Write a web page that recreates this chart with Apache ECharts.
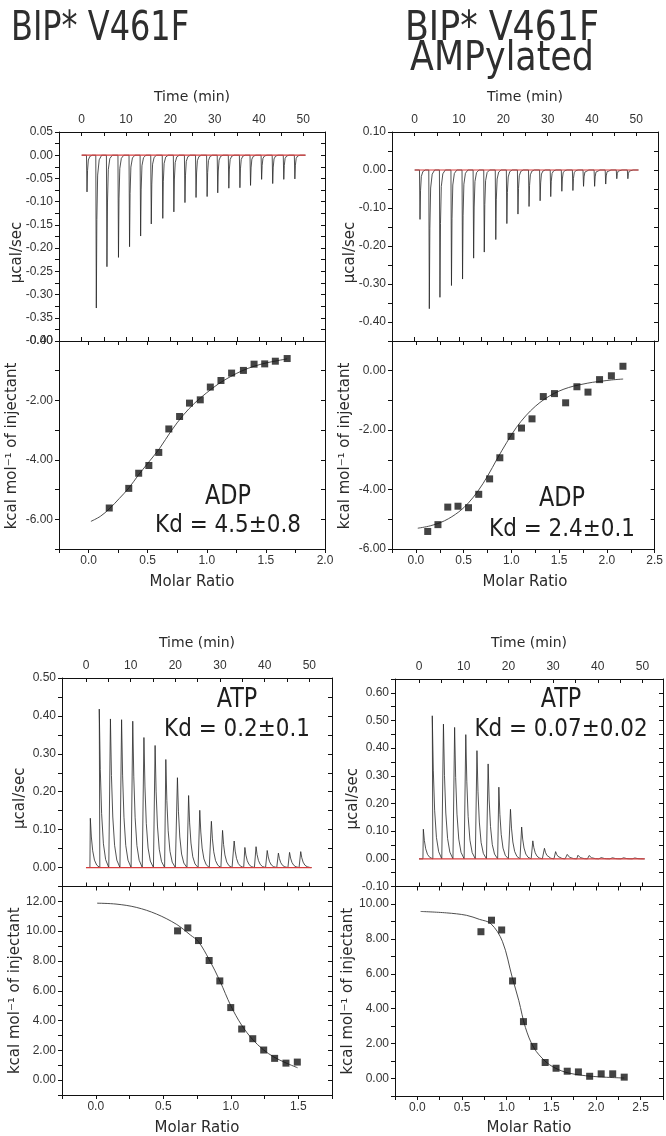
<!DOCTYPE html>
<html><head><meta charset="utf-8">
<script src="https://cdn.jsdelivr.net/npm/echarts@6/dist/echarts.min.js"></script>
<style>html,body{margin:0;padding:0;background:#fff}#c{width:666px;height:1136px}</style>
</head><body><div id="c"></div>
<script>
// ================= DATA =================
// injection times (min)
const injTimesADP = [1.1,3.2,5.6,8.2,10.7,13.2,15.6,18.2,20.7,23.2,25.7,28.2,30.6,33.1,35.6,38.0,40.5,43.0,45.5,48.0];
const injTimesATP = [0.9,2.9,5.4,7.9,10.4,12.9,15.4,17.8,20.4,22.9,25.4,28.0,30.5,33.1,35.5,38.0,40.5,43.0,45.5,48.0];
// peak heights (µcal/sec)
const peaksV461F_ADP = [-0.079,-0.329,-0.24,-0.22,-0.197,-0.174,-0.148,-0.136,-0.122,-0.102,-0.091,-0.089,-0.081,-0.071,-0.07,-0.065,-0.052,-0.061,-0.052,-0.051];
const peaksAMP_ADP   = [-0.13,-0.365,-0.335,-0.304,-0.287,-0.232,-0.216,-0.183,-0.141,-0.116,-0.096,-0.081,-0.07,-0.056,-0.054,-0.043,-0.043,-0.037,-0.023,-0.023];
const peaksV461F_ATP = [0.13,0.418,0.392,0.39,0.386,0.343,0.322,0.285,0.237,0.19,0.151,0.122,0.098,0.07,0.053,0.055,0.045,0.038,0.04,0.042];
const peaksAMP_ATP   = [0.107,0.517,0.487,0.475,0.449,0.391,0.343,0.259,0.179,0.115,0.065,0.038,0.026,0.016,0.013,0.012,0.007,0.006,0.006,0.005];

// integrated heats (kcal/mol of injectant) vs molar ratio
const ratioV461F_ADP = [0.175,0.34,0.424,0.51,0.594,0.679,0.77,0.854,0.945,1.03,1.12,1.21,1.31,1.40,1.49,1.58,1.68];
const heatV461F_ADP  = [-5.62,-4.96,-4.45,-4.19,-3.75,-2.96,-2.54,-2.09,-1.98,-1.55,-1.33,-1.08,-0.99,-0.78,-0.77,-0.68,-0.59];
const fitXV461F_ADP  = [0.02,0.1,0.175,0.26,0.34,0.42,0.5,0.6,0.7,0.8,0.9,1.0,1.1,1.2,1.3,1.4,1.5,1.6,1.68];
const fitYV461F_ADP  = [-6.07,-5.9,-5.65,-5.3,-4.95,-4.52,-4.12,-3.62,-3.02,-2.5,-2.08,-1.74,-1.44,-1.2,-1.0,-0.85,-0.74,-0.66,-0.6];

const ratioAMP_ADP = [0.124,0.231,0.334,0.441,0.551,0.658,0.772,0.879,0.996,1.106,1.216,1.334,1.451,1.568,1.686,1.802,1.923,2.047,2.168];
const heatAMP_ADP  = [-5.41,-5.18,-4.59,-4.56,-4.61,-4.16,-3.64,-2.93,-2.21,-1.93,-1.62,-0.87,-0.77,-1.08,-0.54,-0.72,-0.30,-0.17,0.15];
const fitXAMP_ADP  = [0.02,0.15,0.3,0.45,0.55,0.65,0.75,0.85,0.95,1.05,1.15,1.25,1.35,1.45,1.55,1.65,1.75,1.85,1.95,2.05,2.17];
const fitYAMP_ADP  = [-5.3,-5.22,-5.05,-4.75,-4.45,-4.05,-3.55,-2.97,-2.42,-1.92,-1.52,-1.2,-0.95,-0.76,-0.62,-0.52,-0.45,-0.39,-0.35,-0.31,-0.28];

const ratioV461F_ATP = [0.606,0.682,0.761,0.84,0.919,1.0,1.081,1.163,1.244,1.325,1.409,1.493];
const heatV461F_ATP  = [10.02,10.22,9.37,8.03,6.66,4.87,3.43,2.78,2.02,1.46,1.14,1.21];
const fitXV461F_ATP  = [0.01,0.15,0.3,0.45,0.6,0.7,0.76,0.84,0.92,1.0,1.08,1.16,1.24,1.32,1.41,1.495];
const fitYV461F_ATP  = [11.88,11.82,11.6,11.15,10.45,9.75,9.3,8.1,6.65,5.0,3.7,2.75,2.05,1.55,1.15,0.83];

const ratioAMP_ATP = [0.712,0.83,0.944,1.066,1.188,1.305,1.431,1.553,1.678,1.803,1.929,2.058,2.187,2.316];
const heatAMP_ATP  = [8.41,9.07,8.51,5.59,3.26,1.84,0.92,0.59,0.42,0.38,0.13,0.27,0.27,0.08];
const fitXAMP_ATP  = [0.037,0.325,0.55,0.694,0.823,0.952,1.062,1.136,1.21,1.305,1.43,1.54,1.69,1.947,2.316];
const fitYAMP_ATP  = [9.57,9.49,9.35,9.12,8.87,7.86,5.80,4.46,2.92,1.76,1.0,0.61,0.32,0.13,0.03];

// tick labels
const timeLabels = [0,10,20,30,40,50];
const timeTicks  = [0,5,10,15,20,25,30,35,40,45,50];
const rawLabelsA = [-0.40,-0.35,-0.30,-0.25,-0.20,-0.15,-0.10,-0.05,0.00,0.05];
const rawTicksA  = [-0.40,-0.375,-0.35,-0.325,-0.30,-0.275,-0.25,-0.225,-0.20,-0.175,-0.15,-0.125,-0.10,-0.075,-0.05,-0.025,0.00,0.025,0.05];
const rawLabelsB = [-0.40,-0.30,-0.20,-0.10,0.00,0.10];
const rawTicksB  = [-0.45,-0.40,-0.35,-0.30,-0.25,-0.20,-0.15,-0.10,-0.05,0.00,0.05,0.10];
const rawLabelsC = [0.00,0.10,0.20,0.30,0.40,0.50];
const rawTicksC  = [-0.05,0.00,0.05,0.10,0.15,0.20,0.25,0.30,0.35,0.40,0.45,0.50];
const rawLabelsD = [-0.10,0.00,0.10,0.20,0.30,0.40,0.50,0.60];
const rawTicksD  = [-0.10,-0.05,0.00,0.05,0.10,0.15,0.20,0.25,0.30,0.35,0.40,0.45,0.50,0.55,0.60,0.65];
const heatLabelsA = [-6,-4,-2,0];
const heatTicksA  = [-7,-6,-5,-4,-3,-2,-1,0];
const heatLabelsB = [-6,-4,-2,0];
const heatTicksB  = [-6,-5,-4,-3,-2,-1,0,1];
const heatLabelsC = [0,2,4,6,8,10,12];
const heatTicksC  = [-1,0,1,2,3,4,5,6,7,8,9,10,11,12,13];
const heatLabelsD = [0,2,4,6,8,10];
const heatTicksD  = [-1,0,1,2,3,4,5,6,7,8,9,10,11];
const ratioLabelsA = [0,0.5,1.0,1.5,2.0];
const ratioTicksA  = [-0.25,0,0.25,0.5,0.75,1.0,1.25,1.5,1.75,2.0];
const ratioLabelsB = [0,0.5,1.0,1.5,2.0,2.5];
const ratioTicksB  = [-0.25,0,0.25,0.5,0.75,1.0,1.25,1.5,1.75,2.0,2.25,2.5];
const ratioLabelsC = [0,0.5,1.0,1.5];
const ratioTicksC  = [-0.25,0,0.25,0.5,0.75,1.0,1.25,1.5,1.75];
const ratioLabelsD = [0,0.5,1.0,1.5,2.0,2.5];
const ratioTicksD  = [-0.25,0,0.25,0.5,0.75,1.0,1.25,1.5,1.75,2.0,2.25,2.5,2.75];

const titleLeft = 'BIP* V461F';
const titleRight1 = 'BIP* V461F';
const titleRight2 = 'AMPylated';
const annots = [['ADP','Kd = 4.5±0.8'],['ADP','Kd = 2.4±0.1'],['ATP','Kd = 0.2±0.1'],['ATP','Kd = 0.07±0.02']];

// ================= LAYOUT / BUILD =================
const panels = [
  {left:59, width:266, top:132, split:341, bottom:549, tmin:-5.12, tmax:54.9,
   times:injTimesADP, peaks:peaksV461F_ADP, slow:false,
   yT:[-0.40,0.05], yTL:rawLabelsA, yTT:rawTicksA, yB:[-7,0], yBL:heatLabelsA, yBT:heatTicksA,
   x:[-0.25,2.0], xL:ratioLabelsA, xT:ratioTicksA,
   rx:ratioV461F_ADP, ry:heatV461F_ADP, fx:fitXV461F_ADP, fy:fitYV461F_ADP,
   ann:annots[0], annX:228, annY1:497, annY2:525},
  {left:392, width:266, top:132, split:341, bottom:549, tmin:-5.12, tmax:54.9,
   times:injTimesADP, peaks:peaksAMP_ADP, slow:false,
   yT:[-0.45,0.10], yTL:rawLabelsB, yTT:rawTicksB, yB:[-6,1], yBL:heatLabelsB, yBT:heatTicksB,
   x:[-0.25,2.5], xL:ratioLabelsB, xT:ratioTicksB,
   rx:ratioAMP_ADP, ry:heatAMP_ADP, fx:fitXAMP_ADP, fy:fitYAMP_ADP,
   ann:annots[1], annX:562, annY1:499, annY2:529},
  {left:62, width:270, top:678, split:886.5, bottom:1095, tmin:-5.37, tmax:55.07,
   times:injTimesATP, peaks:peaksV461F_ATP, slow:true,
   yT:[-0.05,0.50], yTL:rawLabelsC, yTT:rawTicksC, yB:[-1,13], yBL:heatLabelsC, yBT:heatTicksC,
   x:[-0.25,1.75], xL:ratioLabelsC, xT:ratioTicksC,
   rx:ratioV461F_ATP, ry:heatV461F_ATP, fx:fitXV461F_ATP, fy:fitYV461F_ATP,
   ann:annots[2], annX:237, annY1:700, annY2:729},
  {left:395, width:268, top:679, split:886.5, bottom:1096, tmin:-5.37, tmax:54.6,
   times:injTimesATP, peaks:peaksAMP_ATP, slow:true,
   yT:[-0.10,0.65], yTL:rawLabelsD, yTT:rawTicksD, yB:[-1,11], yBL:heatLabelsD, yBT:heatTicksD,
   x:[-0.25,2.75], xL:ratioLabelsD, xT:ratioTicksD,
   rx:ratioAMP_ATP, ry:heatAMP_ATP, fx:fitXAMP_ATP, fy:fitYAMP_ATP,
   ann:annots[3], annX:561, annY1:700, annY2:729}
];

const shapeFast = [[0.1,1],[0.22,0.42],[0.4,0.13],[0.75,0.03],[1.3,0]];
const shapeSlow = [[0.07,1],[0.3,0.62],[0.6,0.34],[1.0,0.15],[1.5,0.05],[2.2,0]];

function buildTrace(times, peaks, slow){
  const sh = slow ? shapeSlow : shapeFast;
  const pts = [[0,0]];
  times.forEach((t,i)=>{
    pts.push([t-0.02,0]);
    sh.forEach(([dt,f])=>pts.push([+(t+dt).toFixed(3), peaks[i]*f]));
  });
  pts.push([50.5,0]);
  return pts;
}
const zip = (a,b)=>a.map((v,i)=>[v,b[i]]);

const TXT = '#2a2a2a';
const LBLFONT = "'Liberation Sans', Arial, sans-serif";
const BIGFONT = "'DejaVu Sans', sans-serif";
const fmt2 = v => (Math.abs(v)<1e-9?0:v).toFixed(2);
const fmt1 = v => (Math.abs(v)<1e-9?0:v).toFixed(1);
const fmt0 = v => String(Math.round(v));

function ax(gi, pos, min, max, ticks, labels, fmt, inside, showLabel){
  return {
    type:'value', gridIndex:gi, position:pos, min:min, max:max, scale:true,
    axisLine:{show:true,onZero:false,lineStyle:{color:'#111',width:1}},
    axisTick:{show:true,inside:inside,length:4,customValues:ticks,lineStyle:{color:'#111',width:1}},
    axisLabel:{show:showLabel,customValues:labels,formatter:fmt,fontSize:12,color:'#333',
      fontFamily:LBLFONT,margin:6,showMinLabel:true,showMaxLabel:true,hideOverlap:false},
    splitLine:{show:false}, minorTick:{show:false}, minorSplitLine:{show:false}
  };
}

const grids=[], xAxes=[], yAxes=[], series=[], graphics=[];
panels.forEach((p,k)=>{
  const gT = grids.length;
  grids.push({left:p.left, top:p.top, width:p.width, height:p.split-p.top, containLabel:false});
  const gB = grids.length;
  grids.push({left:p.left, top:p.split, width:p.width, height:p.bottom-p.split, containLabel:false});
  const xTop = xAxes.length; xAxes.push(ax(gT,'top',p.tmin,p.tmax,timeTicks,timeLabels,fmt0,true,true));
  xAxes.push(ax(gT,'bottom',p.tmin,p.tmax,timeTicks,timeLabels,fmt0,true,false));
  const yTop = yAxes.length; yAxes.push(ax(gT,'left',p.yT[0],p.yT[1],p.yTT,p.yTL,fmt2,false,true));
  yAxes.push(ax(gT,'right',p.yT[0],p.yT[1],p.yTT,p.yTL,fmt2,true,false));
  const xBot = xAxes.length; xAxes.push(ax(gB,'bottom',p.x[0],p.x[1],p.xT,p.xL,fmt1,false,true));
  xAxes.push(ax(gB,'top',p.x[0],p.x[1],p.xT,p.xL,fmt1,true,false));
  const yBot = yAxes.length; yAxes.push(ax(gB,'left',p.yB[0],p.yB[1],p.yBT,p.yBL,fmt2,false,true));
  yAxes.push(ax(gB,'right',p.yB[0],p.yB[1],p.yBT,p.yBL,fmt2,true,false));

  series.push({type:'line',xAxisIndex:xTop,yAxisIndex:yTop,data:buildTrace(p.times,p.peaks,p.slow),
    showSymbol:false,symbol:'none',lineStyle:{color:'#262626',width:0.8},z:2,silent:true});
  series.push({type:'line',xAxisIndex:xTop,yAxisIndex:yTop,data:[[0,0],[50.5,0]],
    showSymbol:false,symbol:'none',lineStyle:{color:'#d83c3c',width:1.2},z:9,zlevel:0,silent:true});
  series.push({type:'line',xAxisIndex:xBot,yAxisIndex:yBot,data:zip(p.fx,p.fy),smooth:0.35,
    showSymbol:false,symbol:'none',lineStyle:{color:'#3a3a3a',width:0.9},z:2,silent:true});
  series.push({type:'scatter',xAxisIndex:xBot,yAxisIndex:yBot,data:zip(p.rx,p.ry),
    symbol:'rect',symbolSize:7,itemStyle:{color:'#141414'},z:4,silent:true});

  const cx = p.left + p.width/2;
  graphics.push({type:'text',x:cx,y:k<2?97:643,style:{text:'Time (min)',font:"14px "+BIGFONT,fill:TXT,align:'center',verticalAlign:'middle'}});
  graphics.push({type:'text',x:cx,y:k<2?582:1128,style:{text:'Molar Ratio',font:"15px "+BIGFONT,fill:TXT,align:'center',verticalAlign:'middle'}});
  graphics.push({type:'text',x:p.left-42,y:(p.top+p.split)/2+16,rotation:Math.PI/2,
    style:{text:'µcal/sec',font:"15px "+BIGFONT,fill:TXT,align:'center',verticalAlign:'middle'}});
  graphics.push({type:'text',x:p.left-47,y:(p.split+p.bottom)/2+(k<2?1:0),rotation:Math.PI/2,
    style:{text:'kcal mol⁻¹ of injectant',font:"15px "+BIGFONT,fill:TXT,align:'center',verticalAlign:'middle'}});
  graphics.push({type:'text',x:p.annX,y:p.annY1,scaleX:0.86,style:{text:p.ann[0],font:"26px "+BIGFONT,fill:'#1e1e1e',align:'center',verticalAlign:'middle'}});
  graphics.push({type:'text',x:p.annX,y:p.annY2,scaleX:0.86,style:{text:p.ann[1],font:"25px "+BIGFONT,fill:'#1e1e1e',align:'center',verticalAlign:'middle'}});
});

graphics.push({type:'text',x:100,y:29,scaleX:0.78,style:{text:titleLeft,font:"41px "+BIGFONT,fill:'#2e2e2e',align:'center',verticalAlign:'middle'}});
graphics.push({type:'text',x:502,y:29,scaleX:0.85,style:{text:titleRight1,font:"41px "+BIGFONT,fill:'#2e2e2e',align:'center',verticalAlign:'middle'}});
graphics.push({type:'text',x:502,y:59,scaleX:0.85,style:{text:titleRight2,font:"41px "+BIGFONT,fill:'#2e2e2e',align:'center',verticalAlign:'middle'}});

const chart = echarts.init(document.getElementById('c'),null,{renderer:'canvas'});
chart.setOption({
  animation:false, backgroundColor:'#fff',
  grid:grids, xAxis:xAxes, yAxis:yAxes, series:series, graphic:graphics
});
</script></body></html>
